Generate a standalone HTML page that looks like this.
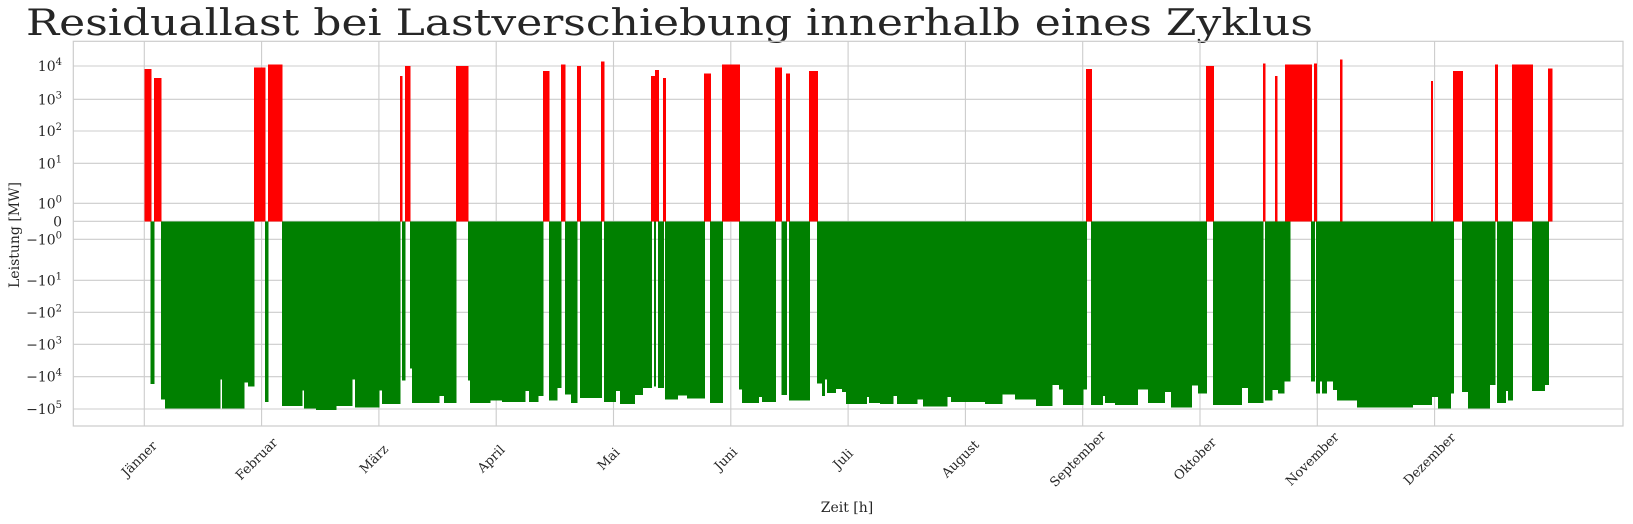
<!DOCTYPE html>
<html><head><meta charset="utf-8"><style>
html,body{margin:0;padding:0;background:#fff;}
svg{display:block;font-family:"DejaVu Serif","Liberation Serif",serif;}
</style></head><body>
<svg id="chart" width="1633" height="524" viewBox="0 0 1633 524" xmlns="http://www.w3.org/2000/svg">
<text x="26" y="35" font-size="36" fill="#262626" textLength="1287" lengthAdjust="spacingAndGlyphs">Residuallast bei Lastverschiebung innerhalb eines Zyklus</text>
<g id="grid"></g>
<g id="bars" shape-rendering="crispEdges"></g>
<rect x="73.3" y="41.3" width="1549.7" height="384.7" fill="none" stroke="#cccccc" stroke-width="1.2"/>
<g id="yticks"></g>
<g id="xticks"></g>
<text x="0" y="0" font-size="14" fill="#262626" text-anchor="middle" transform="translate(19,235) rotate(-90)">Leistung [MW]</text>
<text x="847" y="512" font-size="14" fill="#262626" text-anchor="middle">Zeit [h]</text>
</svg>
<script>
const monthLabels = ["Jänner","Februar","März","April","Mai","Juni","Juli","August","September","Oktober","November","Dezember"];
const monthHours = [0,730,1460,2190,2920,3650,4380,5110,5840,6570,7300,8030];
const yTickVals = [10000,1000,100,10,1,0,-1,-10,-100,-1000,-10000,-100000];
const yTickExp = ["4","3","2","1","0","","0","1","2","3","4","5"];
const segStart = [0,40,60,104,129,471,482,620,645,682,751,770,857,981,993,1068,1193,1292,1311,1460,1479,1591,1604,1622,1653,1666,1834,1865,1940,2014,2027,2151,2226,2369,2394,2450,2481,2518,2568,2593,2618,2656,2693,2712,2843,2861,2930,2961,3048,3098,3154,3173,3179,3198,3229,3242,3316,3378,3484,3521,3596,3702,3721,3820,3845,3926,3964,3995,4013,4138,4188,4219,4232,4250,4300,4343,4368,4492,4511,4578,4659,4684,4808,4845,4995,5020,5232,5337,5418,5548,5648,5692,5717,5842,5861,5892,5961,5980,6042,6179,6247,6347,6391,6515,6558,6608,6652,6826,6870,6962,6974,7018,7055,7093,7130,7168,7262,7280,7293,7312,7330,7355,7399,7424,7548,7890,8008,8014,8052,8127,8146,8202,8239,8369,8406,8419,8469,8488,8512,8637,8712,8737,7036,7441,7099];
const segEnd   = [40,60,104,129,471,482,620,645,682,751,770,857,981,993,1068,1193,1292,1311,1460,1479,1591,1604,1622,1653,1666,1834,1865,1940,2014,2027,2151,2226,2369,2394,2450,2481,2518,2568,2593,2618,2656,2693,2712,2843,2861,2930,2961,3048,3098,3154,3173,3179,3198,3229,3242,3316,3378,3484,3521,3596,3702,3721,3820,3845,3926,3964,3995,4013,4138,4188,4219,4232,4250,4300,4343,4368,4492,4511,4578,4659,4684,4808,4845,4995,5020,5232,5337,5418,5548,5648,5692,5717,5842,5861,5892,5961,5980,6042,6179,6247,6347,6391,6515,6558,6608,6652,6826,6870,6962,6974,7018,7055,7093,7130,7168,7262,7280,7293,7312,7330,7355,7399,7424,7548,7890,8008,8014,8052,8127,8146,8202,8239,8369,8406,8419,8469,8488,8512,8637,8712,8737,8760,7049,7454,7130];
const segValue = [8000,-17000,4400,-50000,-95000,-12000,-95000,-15000,-20000,9000,-60000,11000,-80000,-27000,-95000,-107000,-80000,-12000,-90000,-27000,-70000,5000,-13000,10000,-5500,-65000,-40000,-65000,10000,-13000,-65000,-55000,-60000,-28000,-60000,-40000,7000,-55000,-22000,11000,-35000,-65000,10000,-45000,14000,-60000,-28000,-70000,-37000,-22000,5000,-20000,7500,-22000,4300,-50000,-38000,-48000,6000,-65000,11000,-25000,-65000,-42000,-60000,9000,-37000,6000,-55000,7000,-16000,-40000,-12000,-32000,-24000,-30000,-70000,-42000,-65000,-70000,-40000,-70000,-50000,-85000,-42000,-60000,-70000,-35000,-50000,-80000,-18000,-25000,-75000,-25000,8000,-75000,-40000,-65000,-75000,-25000,-65000,-30000,-90000,-19000,-33000,10000,-75000,-22000,-65000,12000,-55000,-26000,-33000,-14000,11000,11000,-14000,12000,-33000,-14000,-33000,-14000,-26000,-55000,-90000,-75000,3500,-42000,-95000,-33000,7000,-30000,-95000,-18000,11000,-65000,-28000,-55000,11000,-28000,-18000,8500,5000,16000,11000];

const NS = "http://www.w3.org/2000/svg";
const X0 = 144.3, PXH = 117.3/730;
function xScale(h){ return X0 + h*PXH; }
const ZERO = 221.3;
const posPix = [203.3,163.3,131,99.3,66,33.5];
const negPix = [239.3,280.3,312.3,344.3,376.7,409,441.3];
function yScale(v){
  if (v === 0) return ZERO;
  const s = v > 0 ? 1 : -1, a = Math.abs(v);
  if (a <= 1) return ZERO - s*a*18;
  const l = Math.min(Math.log10(a), 5.99);
  const i = Math.floor(l), f = l - i;
  const arr = s > 0 ? posPix : negPix;
  return arr[i] + (arr[i+1]-arr[i])*f;
}
function mk(tag, attrs){ const e = document.createElementNS(NS, tag); for (const k in attrs) e.setAttribute(k, attrs[k]); return e; }

const grid = document.getElementById('grid');
yTickVals.forEach(v => {
  const y = yScale(v);
  const l = mk('line', {x1:73.3, x2:1623, y1:y, y2:y, stroke:'#cccccc', 'stroke-width':1.1});
  
  
  grid.appendChild(l);
});
monthHours.forEach(h => {
  const x = xScale(h);
  const l = mk('line', {x1:x, x2:x, y1:41.3, y2:426, stroke:'#cccccc', 'stroke-width':1.1});
  
  
  grid.appendChild(l);
});

const bars = document.getElementById('bars');
for (let i = 0; i < segStart.length; i++) {
  const v = segValue[i];
  const x1 = xScale(segStart[i]), x2 = xScale(segEnd[i]);
  const y = yScale(v);
  const top = Math.min(y, ZERO), bot = Math.max(y, ZERO);
  const r = mk('rect', {x:x1, y:top, width:Math.max(x2-x1,1)+0.7, height:bot-top, fill: v > 0 ? '#ff0000' : '#008000'});
  
  
  bars.appendChild(r);
}

const yt = document.getElementById('yticks');
yTickVals.forEach((v, i) => {
  const y = yScale(v) + 5;
  const t = mk('text', {x:62, y:y, 'font-size':14, fill:'#262626', 'text-anchor':'end'});
  
  
  if (v === 0) { t.textContent = '0'; }
  else {
    const base = mk('tspan', {});
    base.textContent = (v < 0 ? '\u221210' : '10');
    const sup = mk('tspan', {'font-size':10, dy:-6});
    sup.textContent = yTickExp[i];
    t.appendChild(base); t.appendChild(sup);
  }
  yt.appendChild(t);
});

const xt = document.getElementById('xticks');
monthHours.forEach((h, i) => {
  const x = xScale(h);
  const t = mk('text', {x:0, y:0, 'font-size':13, fill:'#262626', 'text-anchor':'middle', transform:'translate(' + (x-2) + ',462) rotate(-45)'});
  
  
  t.textContent = monthLabels[i];
  xt.appendChild(t);
});
</script>
</body></html>
